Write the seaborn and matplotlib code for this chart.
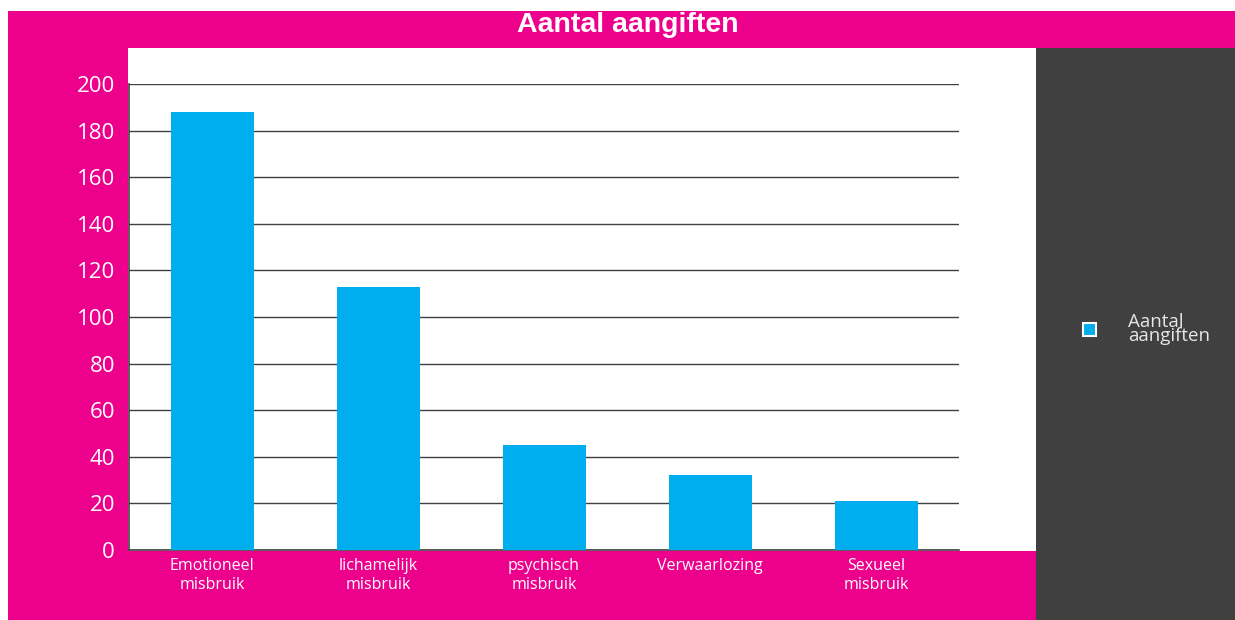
import pandas as pd
import seaborn as sns
import matplotlib.pyplot as plt
from matplotlib.patches import Rectangle, Patch

categories = ["Emotioneel\nmisbruik", "lichamelijk\nmisbruik", "psychisch\nmisbruik",
              "Verwaarlozing", "Sexueel\nmisbruik"]
aangiften = [188, 113, 45, 32, 21]
yticks = [0, 20, 40, 60, 80, 100, 120, 140, 160, 180, 200]

data = pd.DataFrame({"categorie": categories, "aantal": aangiften})

magenta = "#EC008C"
cyaan = "#00AEEF"
grijs = "#404040"

W, H = 1235, 620
fig = plt.figure(figsize=(W / 100, H / 100), dpi=100)
fig.patch.set_facecolor("white")

# achtergrondvlakken
fig.patches.append(Rectangle((8 / W, 0), 1 - 8 / W, (H - 11) / H, transform=fig.transFigure,
                             facecolor=magenta, edgecolor="none", zorder=-3))
fig.patches.append(Rectangle((128 / W, (H - 551) / H), (1036 - 128) / W, (551 - 48) / H,
                             transform=fig.transFigure, facecolor="white", edgecolor="none", zorder=-2))
fig.patches.append(Rectangle((1036 / W, 0), (W - 1036) / W, (H - 48) / H,
                             transform=fig.transFigure, facecolor=grijs, edgecolor="none", zorder=-2))

ax = fig.add_axes([129 / W, (H - 550) / H, (959 - 129) / W, (550 - 84) / H])
ax.set_facecolor("none")
ax.set_zorder(1)

sns.barplot(data=data, x="categorie", y="aantal", color=cyaan, width=0.5,
            saturation=1, ax=ax, zorder=3)

ax.set_xlim(-0.5, 4.5)
ax.set_ylim(0, 200)
ax.set_yticks(yticks)
ax.yaxis.grid(True, color=grijs, linewidth=1)
ax.set_axisbelow(True)
for kant in ["top", "right"]:
    ax.spines[kant].set_visible(False)
for kant in ["left", "bottom"]:
    ax.spines[kant].set_color(grijs)
    ax.spines[kant].set_linewidth(1.2)
ax.tick_params(axis="y", length=0, pad=10, labelsize=16, labelcolor="white")
ax.tick_params(axis="x", length=0, pad=6, labelsize=11.5, labelcolor="white")
for t in ax.get_yticklabels() + ax.get_xticklabels():
    t.set_fontfamily("Open Sans")
for t in ax.get_xticklabels():
    t.set_linespacing(1.2)
ax.set_xlabel("")
ax.set_ylabel("")

fig.text(628 / W, 1 - 25 / H, "Aantal aangiften", ha="center", va="center",
         color="white", fontsize=20.5, fontweight="bold", family="Liberation Sans")

fig.legend(handles=[Patch(facecolor=cyaan, edgecolor="white", linewidth=1.5,
                          label="Aantal\naangiften")],
           loc="center left", bbox_to_anchor=(1066 / W, 1 - 329 / H),
           frameon=False, handlelength=0.7, handleheight=0.7, handletextpad=1.7,
           prop={"family": "Open Sans", "size": 13.5}, labelcolor="#E6E6E6")
for t in fig.legends[0].get_texts():
    t.set_linespacing(0.75)

fig.savefig("out.png", dpi=100, facecolor=fig.get_facecolor())
